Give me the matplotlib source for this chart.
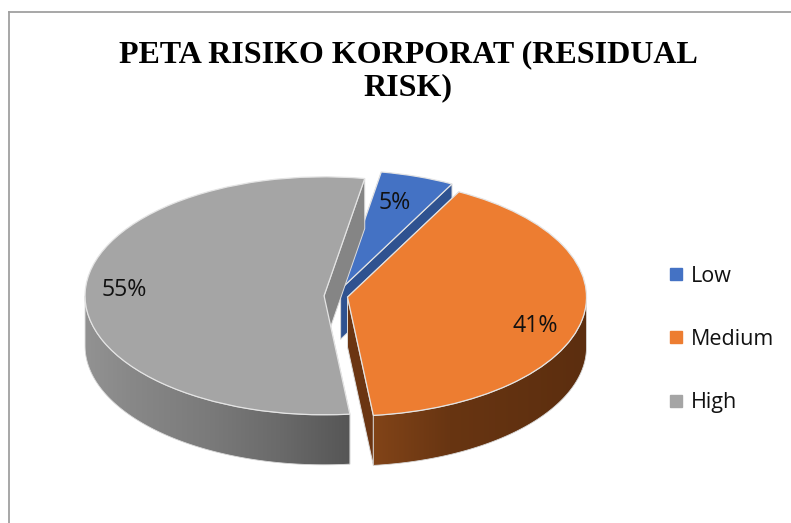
import numpy as np
import matplotlib
matplotlib.use("Agg")
import matplotlib.pyplot as plt
from matplotlib.lines import Line2D
from matplotlib.patches import Polygon

# data
labels = ["Low", "Medium", "High"]
values = [5.0, 40.6, 54.5]
pct_text = ["5%", "41%", "55%"]
explode = [0.06, 0.049, 0.05]
colors = ["#4472c4", "#ed7d31", "#a5a5a5"]
side_colors = ["#2f5290", "#6b3512", "#858585"]

W, H = 791, 523
rx, ry = 239.0, 119.0
cx, cy = 336.0, 296.0
depth = 50.0 / ry
start = 9.8

fig = plt.figure(figsize=(W / 100, H / 100), dpi=100)
ax = fig.add_axes([0, 0, 1, 1])


def px(x, y):
    return (x - cx) / rx, (cy - y) / ry


# wall shading along x, in pixels
grey_x = [86, 130, 210, 280, 349]
grey_v = [146, 136, 122, 106, 86]
orange_x = [373, 450, 586]
orange_rgb = [(130, 68, 24), (104, 53, 18), (92, 46, 15)]

total = sum(values)
angles = np.cumsum([0] + values) / total * 360 + start
draw_order = [2, 0, 1]

xgrid = np.linspace(0, W, 800)
grey_img = np.interp(xgrid, grey_x, grey_v)[None, :, None].repeat(3, axis=2) / 255
orange_img = np.stack([np.interp(xgrid, orange_x, [c[k] for c in orange_rgb]) for k in range(3)],
                      axis=1)[None, :, :] / 255
bottom, top = px(0, H)[1], px(0, 0)[1]
left, right = px(0, 0)[0], px(W, 0)[0]

for i in draw_order:
    a0, a1 = angles[i], angles[i + 1]
    mid = np.radians((a0 + a1) / 2)
    ox, oy = explode[i] * np.sin(mid), explode[i] * np.cos(mid)
    pa0 = (ox + np.sin(np.radians(a0)), oy + np.cos(np.radians(a0)))
    pa1 = (ox + np.sin(np.radians(a1)), oy + np.cos(np.radians(a1)))

    # flat cut faces
    for p in (pa0, pa1):
        ax.add_patch(Polygon([(ox, oy), p, (p[0], p[1] - depth), (ox, oy - depth)],
                             fc=side_colors[i], ec="#dddddd", lw=0.7, zorder=i * 3 + 1))

    # outer wall, only the front half shows
    th = np.radians(np.linspace(max(a0, 90), min(a1, 270), 200))
    if a1 > 90 and a0 < 270:
        xs, ys = ox + np.sin(th), oy + np.cos(th)
        wall = np.r_[np.c_[xs, ys], np.c_[xs, ys - depth][::-1]]
        if i in (1, 2):
            img = orange_img if i == 1 else grey_img
            im = ax.imshow(img, extent=(left, right, bottom, top), aspect="auto", zorder=i * 3 + 1)
            clip = Polygon(wall, transform=ax.transData, fc="none")
            im.set_clip_path(clip)
        ax.add_patch(Polygon(wall, fc="none", ec="#d8d8d8", lw=0.6, zorder=i * 3 + 1))

    # top face, one pie call per slice so the paint order can be chosen
    wedges, _ = ax.pie([values[i], total - values[i]], startangle=90 - a0, counterclock=False,
                       radius=1, center=(ox, oy), colors=[colors[i], "none"],
                       wedgeprops=dict(edgecolor="#e4e4e4", linewidth=0.9), normalize=True)
    wedges[0].set_zorder(i * 3 + 2)
    wedges[1].set_visible(False)

ax.set_aspect("auto")
ax.set_xlim(left, right)
ax.set_ylim(bottom, top)
ax.axis("off")

font = "Open Sans"
for txt, pos in zip(pct_text, [(395, 203), (535, 326), (124, 290)]):
    ax.text(*px(*pos), txt, ha="center", va="center", fontsize=16.7, family=font, color="#111111", zorder=20)

fig.text(408 / W, 1 - 71.5 / H, "PETA RISIKO KORPORAT (RESIDUAL\nRISK)", ha="center", va="center",
         fontsize=23, fontweight="bold", family="Liberation Serif", color="black", linespacing=1.2)

handles = [Line2D([], [], marker="s", ls="none", color=c, markersize=8) for c in colors]
ax.legend(handles, labels, loc="center left", bbox_to_anchor=(665 / W, 1 - 339.5 / H), frameon=False,
          prop={"family": font, "size": 15.5}, labelspacing=1.97, handletextpad=0.2, handlelength=1.0,
          labelcolor="#111111", borderpad=0, borderaxespad=0)

# chart frame
fig.add_artist(Line2D([8.5 / W, 8.5 / W], [0, 1 - 12 / H], color="#a0a0a0", lw=1.3))
fig.add_artist(Line2D([8.5 / W, 1], [1 - 12 / H, 1 - 12 / H], color="#a0a0a0", lw=1.3))

fig.savefig("out.png", dpi=100)
